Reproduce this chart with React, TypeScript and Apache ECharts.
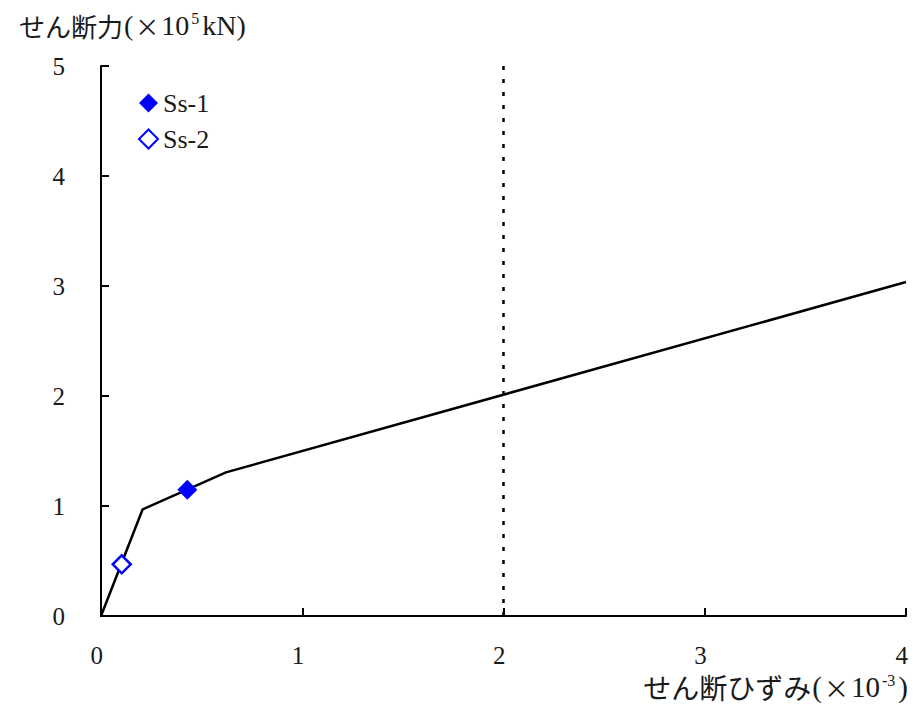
import React, { useEffect, useRef } from "react";
import * as echarts from "echarts";

const curveStrain = [0, 0.207, 0.621, 4];
const curveForce = [0, 0.97, 1.306, 3.036];
const ss1 = [[0.429, 1.148]];
const ss2 = [[0.103, 0.47]];
const limitStrain = 2;
const limitTop = 5.08;
const xTicks = [0, 1, 2, 3, 4];
const yTicks = [0, 1, 2, 3, 4, 5];

const SERIF = '"Liberation Serif", "Noto Sans CJK JP", serif';
const CJK = '"Noto Sans CJK JP", sans-serif';
const INK = "#1a1a1a";

function titleRich(cjkSize: number, latSize: number) {
  return {
    c: { fontFamily: CJK, fontSize: cjkSize, color: INK, fontWeight: "normal", lineHeight: 30 },
    l: { fontFamily: SERIF, fontSize: latSize, color: INK, padding: [0, 1, 0, 1], lineHeight: 30 },
    x: { fontFamily: CJK, fontSize: latSize - 4, color: INK, padding: [0, 1, 0, 1], lineHeight: 30 },
    sup: { fontFamily: SERIF, fontSize: 16, color: INK, verticalAlign: "top", lineHeight: 14, padding: [0, 2, 0, 1] },
  };
}

export default function App() {
  const ref = useRef<HTMLDivElement>(null);
  useEffect(() => {
    if (!ref.current) return;
    const chart = echarts.init(ref.current, null, { renderer: "svg" });
    const curve = curveStrain.map((x, i) => [x, curveForce[i]]);
    chart.setOption({
      animation: false,
      backgroundColor: "#ffffff",
      textStyle: { fontFamily: SERIF, color: INK },
      title: [
        {
          text: "{c|せん断力}{l|(}{x|×}{l|10}{sup|5}{l|kN)}",
          left: 19,
          top: 10,
          padding: 0,
          textStyle: { fontSize: 26, fontWeight: "normal", lineHeight: 30, rich: titleRich(26, 28) },
        },
        {
          text: "{c|せん断ひずみ}{l|(}{x|×}{l|10}{sup|-3}{l|)}",
          right: 13,
          top: 672,
          padding: 0,
          textStyle: { fontSize: 28, fontWeight: "normal", lineHeight: 30, rich: titleRich(28, 29) },
        },
      ],
      legend: {
        orient: "vertical",
        left: 133,
        top: 85,
        itemGap: 10,
        itemWidth: 19,
        itemHeight: 19,
        icon: "diamond",
        textStyle: { fontFamily: SERIF, fontSize: 26, color: INK },
        data: ["Ss-1", "Ss-2"],
      },
      grid: { left: 101, right: 16, top: 66, bottom: 91, containLabel: false },
      xAxis: {
        type: "value",
        min: 0,
        max: 4,
        interval: 1,
        axisLine: { show: true, onZero: false, lineStyle: { color: "#000", width: 2 } },
        axisTick: { show: true, inside: true, length: 8, lineStyle: { color: "#000", width: 2 } },
        splitLine: { show: false },
        axisLabel: {
          fontFamily: SERIF,
          fontSize: 25,
          color: INK,
          margin: 27,
          align: "right",
          padding: [0, -2, 0, 0],
          formatter: (v: number) => (xTicks.includes(v) ? String(v) : ""),
        },
      },
      yAxis: {
        type: "value",
        min: 0,
        max: 5,
        interval: 1,
        axisLine: { show: true, onZero: false, lineStyle: { color: "#000", width: 2 } },
        axisTick: { show: true, inside: true, length: 8, lineStyle: { color: "#000", width: 2 } },
        splitLine: { show: false },
        axisLabel: {
          fontFamily: SERIF,
          fontSize: 25,
          color: INK,
          margin: 36,
          formatter: (v: number) => (yTicks.includes(v) ? String(v) : ""),
        },
      },
      series: [
        {
          name: "curve",
          type: "line",
          data: curve,
          showSymbol: false,
          symbol: "none",
          lineStyle: { color: "#000", width: 2.5 },
          z: 2,
        },
        {
          name: "limit",
          type: "line",
          data: [
            [limitStrain, 0],
            [limitStrain, limitTop],
          ],
          clip: false,
          symbol: "none",
          lineStyle: { color: "#000", width: 2.5, type: [4, 9] },
          z: 1,
        },
        {
          name: "Ss-1",
          type: "scatter",
          data: ss1,
          symbol: "diamond",
          symbolSize: 20,
          itemStyle: { color: "#0000ff", opacity: 1 },
          z: 5,
        },
        {
          name: "Ss-2",
          type: "scatter",
          data: ss2,
          symbol: "diamond",
          symbolSize: 18,
          itemStyle: { color: "#ffffff", borderColor: "#0000ff", borderWidth: 2.5, opacity: 1 },
          z: 5,
        },
      ],
    });
    return () => chart.dispose();
  }, []);
  return <div ref={ref} style={{ width: 922, height: 707, position: "absolute", left: 0, top: 0 }} />;
}
